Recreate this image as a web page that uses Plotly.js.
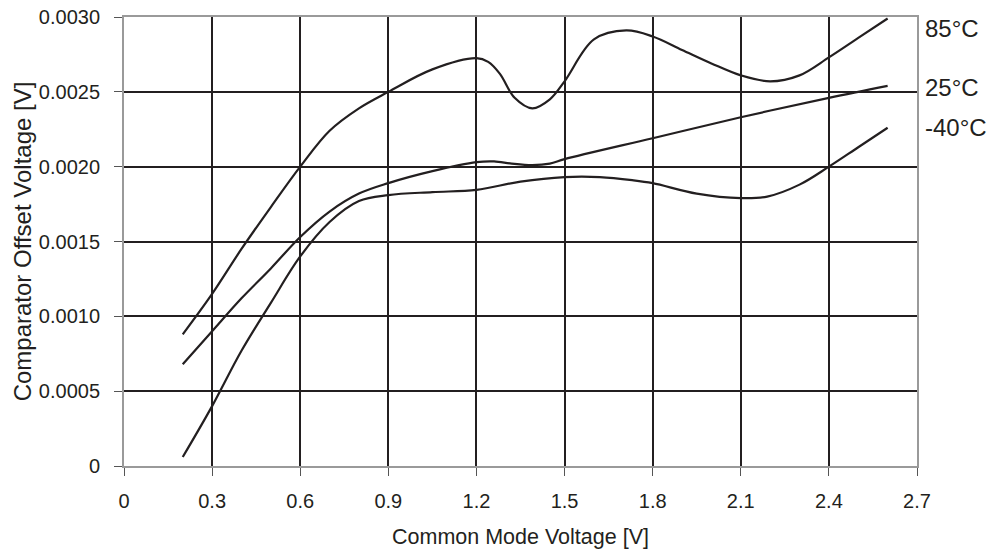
<!DOCTYPE html>
<html>
<head>
<meta charset="utf-8">
<script src="https://cdn.plot.ly/plotly-3.0.1.min.js"></script>
<style>html,body{margin:0;padding:0;background:#fff;}#chart{width:995px;height:556px;}</style>
</head>
<body>
<div id="chart"></div>
<script>
// Data
const x85 = [0.2, 0.3, 0.4, 0.5, 0.6, 0.7, 0.8, 0.9, 1.05, 1.2, 1.24, 1.28, 1.33, 1.39, 1.45, 1.5, 1.6, 1.71, 1.8, 1.9, 2.0, 2.1, 2.2, 2.3, 2.4, 2.5, 2.6];
const y85 = [0.00088, 0.00115, 0.00145, 0.00173, 0.0020, 0.00224, 0.00239, 0.0025, 0.00265, 0.002725, 0.0027, 0.00262, 0.00246, 0.00239, 0.00245, 0.00257, 0.00285, 0.00291, 0.00287, 0.00278, 0.00269, 0.00261, 0.00257, 0.00261, 0.00273, 0.00286, 0.00299];

const x25 = [0.2, 0.3, 0.4, 0.5, 0.6, 0.7, 0.8, 0.9, 1.05, 1.2, 1.26, 1.32, 1.39, 1.45, 1.5, 1.8, 2.1, 2.4, 2.6];
const y25 = [0.00068, 0.0009, 0.00112, 0.00132, 0.00153, 0.00170, 0.00182, 0.00189, 0.00197, 0.00203, 0.002035, 0.00202, 0.00201, 0.00202, 0.00205, 0.00219, 0.00233, 0.00246, 0.00254];

const xm40 = [0.2, 0.3, 0.4, 0.5, 0.6, 0.7, 0.8, 0.9, 1.05, 1.2, 1.35, 1.5, 1.62, 1.73, 1.8, 1.95, 2.1, 2.19, 2.3, 2.4, 2.5, 2.6];
const ym40 = [0.00006, 0.0004, 0.00077, 0.00109, 0.00140, 0.00163, 0.00177, 0.00181, 0.00183, 0.001845, 0.0019, 0.00193, 0.00193, 0.00191, 0.00189, 0.00182, 0.00179, 0.00180, 0.00188, 0.00200, 0.00213, 0.00226];

const seriesNames = ["85°C", "25°C", "-40°C"];
const labelY = [0.00292, 0.00253, 0.00226];

const xTickVals = [0, 0.3, 0.6, 0.9, 1.2, 1.5, 1.8, 2.1, 2.4, 2.7];
const xTickText = ["0", "0.3", "0.6", "0.9", "1.2", "1.5", "1.8", "2.1", "2.4", "2.7"];
const yTickVals = [0, 0.0005, 0.0010, 0.0015, 0.0020, 0.0025, 0.0030];
const yTickText = ["0", "0.0005", "0.0010", "0.0015", "0.0020", "0.0025", "0.0030"];

const FONT = "Liberation Sans, Arial, sans-serif";
const lineStyle = {color: "#231f20", width: 2.2, shape: "spline", smoothing: 1};

const traces = [
  {x: x85, y: y85, mode: "lines", line: lineStyle, name: seriesNames[0], hoverinfo: "skip"},
  {x: x25, y: y25, mode: "lines", line: lineStyle, name: seriesNames[1], hoverinfo: "skip"},
  {x: xm40, y: ym40, mode: "lines", line: lineStyle, name: seriesNames[2], hoverinfo: "skip"}
];

const annotations = seriesNames.map((n, i) => ({
  xref: "paper", yref: "y", x: 1.008, y: labelY[i], xanchor: "left", yanchor: "middle",
  text: n, showarrow: false, font: {family: FONT, size: 24, color: "#231f20"}
}));

const layout = {
  width: 995, height: 556,
  margin: {l: 124, r: 78, t: 17, b: 90},
  paper_bgcolor: "#fff", plot_bgcolor: "#fff",
  showlegend: false,
  font: {family: FONT, color: "#231f20"},
  xaxis: {
    range: [0, 2.7], tickvals: xTickVals, ticktext: xTickText,
    showgrid: true, gridcolor: "#231f20", gridwidth: 2,
    showline: true, linecolor: "#9a9a9a", linewidth: 2, mirror: true,
    ticks: "outside", ticklen: 8, tickcolor: "#555", tickwidth: 1,
    ticklabelstandoff: 8,
    zeroline: false, tickfont: {family: FONT, size: 20, color: "#231f20"},
    title: {text: "Common Mode Voltage [V]", font: {family: FONT, size: 21.5, color: "#231f20"}, standoff: 18}
  },
  yaxis: {
    range: [0, 0.003], tickvals: yTickVals, ticktext: yTickText,
    showgrid: true, gridcolor: "#231f20", gridwidth: 2,
    showline: true, linecolor: "#9a9a9a", linewidth: 2, mirror: true,
    ticks: "outside", ticklen: 8, tickcolor: "#555", tickwidth: 1,
    ticklabelstandoff: 10,
    zeroline: false, tickfont: {family: FONT, size: 20, color: "#231f20"},
    title: {text: "Comparator Offset Voltage [V]", font: {family: FONT, size: 24, color: "#231f20"}, standoff: 0}
  },
  annotations: annotations
};

Plotly.newPlot("chart", traces, layout, {staticPlot: true, displayModeBar: false});
</script>
</body>
</html>
